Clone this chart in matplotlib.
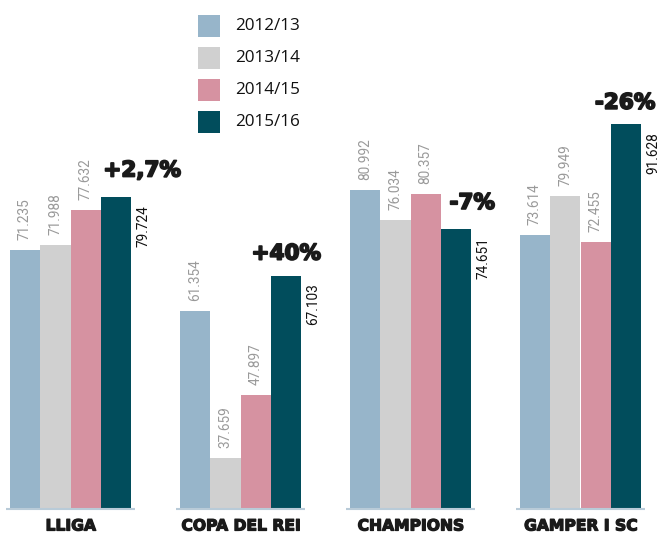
import matplotlib
matplotlib.use("Agg")
import matplotlib.pyplot as plt
import matplotlib.patheffects as pe
import numpy as np
from matplotlib.patches import Rectangle

categories = ["LLIGA", "COPA DEL REI", "CHAMPIONS", "GAMPER I SC"]
seasons = ["2012/13", "2013/14", "2014/15", "2015/16"]
values = {
    "2012/13": [71.235, 61.354, 80.992, 73.614],
    "2013/14": [71.988, 37.659, 76.034, 79.949],
    "2014/15": [77.632, 47.897, 80.357, 72.455],
    "2015/16": [79.724, 67.103, 74.651, 91.628],
}
changes = ["+2,7%", "+40%", "-7%", "-26%"]

colors = ["#97b5ca", "#d0d0d0", "#d692a1", "#014d5c"]

W, H = 659, 533
fig = plt.figure(figsize=(W / 100, H / 100), dpi=100)
ax = fig.add_axes([0, 0, 1, 1])
ax.set_xlim(0, W)
ppu = 6.19
y0 = 29.4 - 24 / ppu
ax.set_ylim(y0, y0 + H / ppu)
ax.axis("off")

bw = 30.4
centers = 70.5 + np.arange(len(categories)) * 170
base = 29.4
heavy = dict(family=["DejaVu Sans"], fontweight="bold")

for s, season in enumerate(seasons):
    xs = centers + (s - 1.5) * bw
    vals = np.array(values[season])
    ax.bar(xs, vals - base, bottom=base, width=bw, color=colors[s], linewidth=0, zorder=2)
    for x, v in zip(xs, vals):
        lab = f"{v:.3f}"
        if s < 3:
            ax.annotate(lab, (x, v), xytext=(0, 10), textcoords="offset pixels",
                        rotation=90, ha="center", va="bottom", fontsize=9.8,
                        color="#9a9a9a", family=["Roboto", "DejaVu Sans"])
        else:
            ax.annotate(lab, (x + bw / 2, v), xytext=(5, -8), textcoords="offset pixels",
                        rotation=90, ha="left", va="top", fontsize=9.8,
                        color="#111111", family=["Roboto", "DejaVu Sans"])

dxs = [26, 0, 16, -1]
dys = [17, 12, 16, 11]
last = np.array(values[seasons[-1]])
stroke = [pe.withStroke(linewidth=1.3, foreground="#1a1a1a")]
for i, (c, ch) in enumerate(zip(centers, changes)):
    x = c + 1.5 * bw
    t = ax.annotate(ch, (x, last[i]), xytext=(dxs[i], dys[i]), textcoords="offset pixels",
                    ha="center", va="bottom", fontsize=15.5, color="#1a1a1a", **heavy)
    t.set_path_effects(stroke)

stroke2 = [pe.withStroke(linewidth=0.9, foreground="#1a1a1a")]
for c, cat in zip(centers, categories):
    ax.plot([c - 2 * bw - 4, c + 2 * bw + 4], [base, base], color="#b9cbd8",
            lw=1.5, zorder=3, solid_capstyle="butt")
    t = ax.text(c, base - 17 / ppu, cat, ha="center", va="center",
                fontsize=11.2, color="#1a1a1a", **heavy)
    t.set_path_effects(stroke2)

for s, season in enumerate(seasons):
    top = 15 + s * 32
    fig.add_artist(Rectangle((198 / W, 1 - (top + 22) / H), 22 / W, 22 / H,
                             transform=fig.transFigure, color=colors[s], linewidth=0))
    fig.text(235 / W, 1 - (top + 11) / H, season, ha="left", va="center",
             fontsize=12.3, color="#111111", family=["Open Sans", "DejaVu Sans"])

fig.savefig("out.png", dpi=100)
